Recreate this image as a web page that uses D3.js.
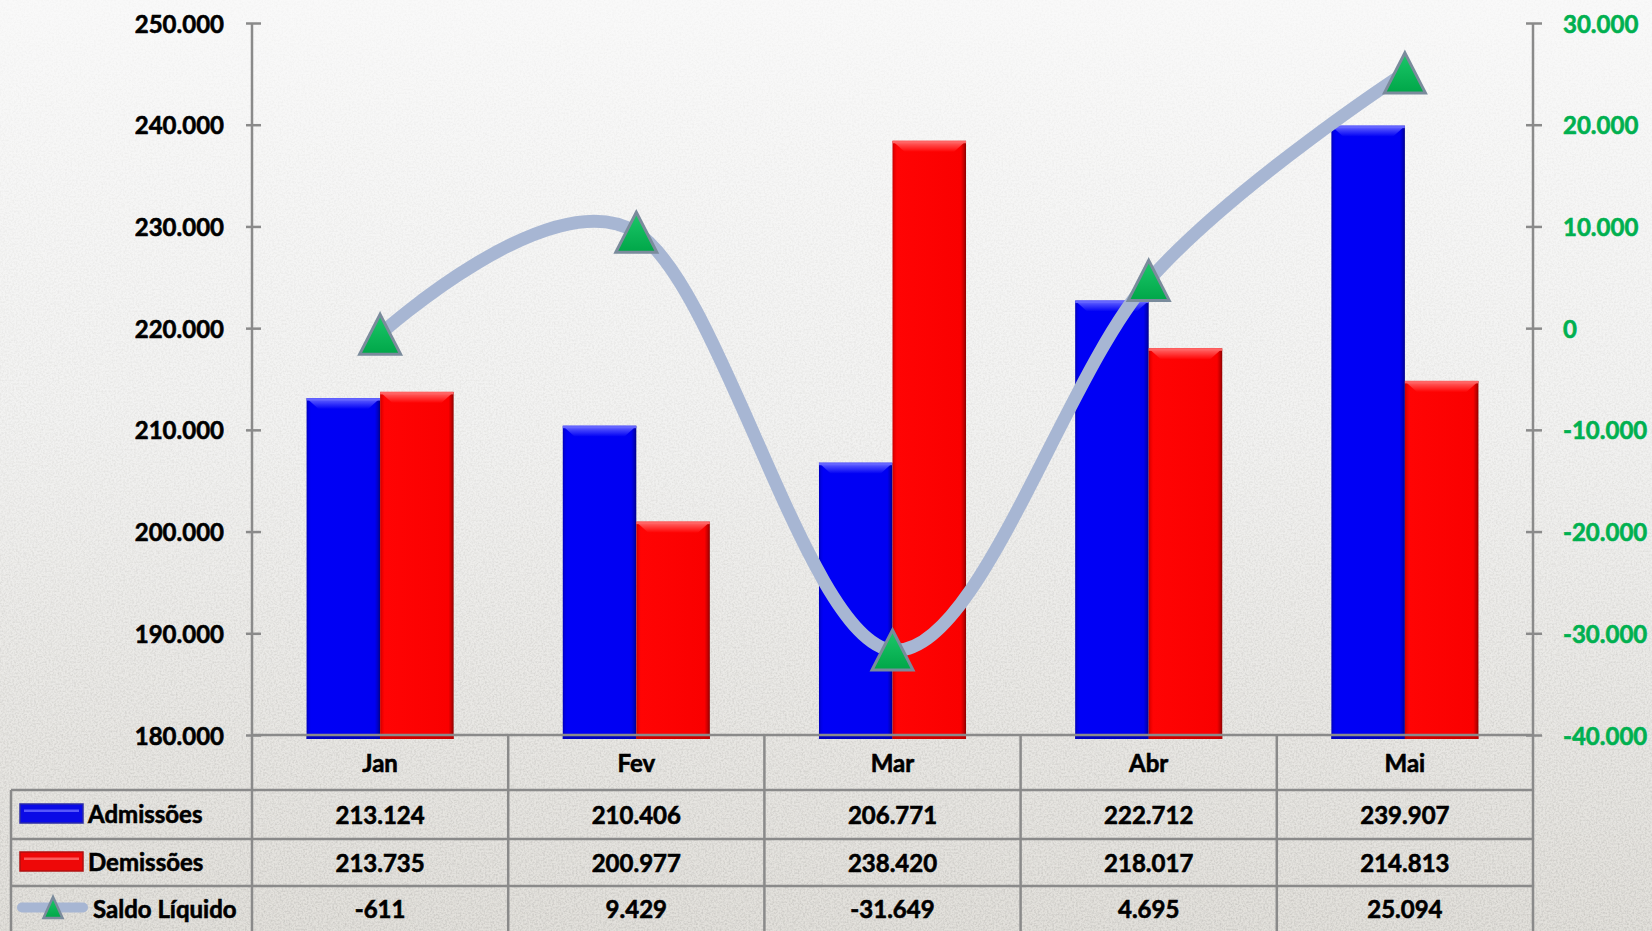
<!DOCTYPE html>
<html>
<head>
<meta charset="utf-8">
<script src="https://cdn.jsdelivr.net/npm/d3@7"></script>
<style>
  html, body { margin: 0; padding: 0; overflow: hidden; background: #efefef; }
  svg { display: block; }
  text { font-family: Lato, "Open Sans", "DejaVu Sans", sans-serif; font-weight: 700; }
</style>
</head>
<body>
<svg id="chart" width="1652" height="931"></svg>
<script>
// ---- data ----
const months = ["Jan", "Fev", "Mar", "Abr", "Mai"];
const admissoes = [213124, 210406, 206771, 222712, 239907];
const demissoes = [213735, 200977, 238420, 218017, 214813];
const saldo = [-611, 9429, -31649, 4695, 25094];
const seriesNames = ["Admissões", "Demissões", "Saldo Líquido"];
const leftTicks = [180000, 190000, 200000, 210000, 220000, 230000, 240000, 250000];
const rightTicks = [-40000, -30000, -20000, -10000, 0, 10000, 20000, 30000];

// ---- layout ----
const W = 1652, H = 931;
const plotLeft = 252, plotRight = 1533, plotTop = 23, plotBottom = 735;
const rowLines = [735, 790, 839, 886, 931];   // table row boundaries
const tableLeft = 11;
const gridColor = "#8a8a8a";
const lineColor = "#a7b6d3";
const green = "#00b050";

// Brazilian number format: 250.000, -611
const br = d3.formatLocale({ decimal: ",", thousands: ".", grouping: [3], currency: ["R$", ""], minus: "-" });
const fmt = br.format(",.0f");

const svg = d3.select("#chart");
const defs = svg.append("defs");

// background gradient + grain
const bg = defs.append("linearGradient").attr("id", "bgGrad").attr("x1", 0).attr("y1", 0).attr("x2", 0).attr("y2", 1);
bg.append("stop").attr("offset", "0%").attr("stop-color", "#f9f9f9");
bg.append("stop").attr("offset", "45%").attr("stop-color", "#f2f2f1");
bg.append("stop").attr("offset", "100%").attr("stop-color", "#e2e0db");

const grain = defs.append("filter").attr("id", "grain").attr("x", 0).attr("y", 0).attr("width", "100%").attr("height", "100%");
grain.append("feTurbulence").attr("type", "fractalNoise").attr("baseFrequency", "0.55").attr("numOctaves", 3).attr("seed", 7).attr("result", "noise");
grain.append("feColorMatrix").attr("type", "matrix")
  .attr("values", "0 0 0 0 0.45  0 0 0 0 0.44  0 0 0 0 0.42  0 0 0 -1.6 1.0").attr("result", "speck");
grain.append("feComposite").attr("in", "speck").attr("in2", "SourceGraphic").attr("operator", "in");

const fade = defs.append("linearGradient").attr("id", "fadeMask").attr("x1", 0).attr("y1", 0).attr("x2", 0).attr("y2", 1);
fade.append("stop").attr("offset", "0%").attr("stop-color", "#fff").attr("stop-opacity", 0.08);
fade.append("stop").attr("offset", "55%").attr("stop-color", "#fff").attr("stop-opacity", 0.3);
fade.append("stop").attr("offset", "100%").attr("stop-color", "#fff").attr("stop-opacity", 0.65);
defs.append("mask").attr("id", "grainMask")
  .append("rect").attr("width", W).attr("height", H).attr("fill", "url(#fadeMask)");

svg.append("rect").attr("width", W).attr("height", H).attr("fill", "url(#bgGrad)");
svg.append("rect").attr("width", W).attr("height", H).attr("fill", "#000")
  .attr("filter", "url(#grain)").attr("mask", "url(#grainMask)");

// bar gradients (bevelled look)
function hGrad(id, stops) {
  const g = defs.append("linearGradient").attr("id", id).attr("x1", 0).attr("y1", 0).attr("x2", 1).attr("y2", 0);
  stops.forEach(([o, c]) => g.append("stop").attr("offset", o).attr("stop-color", c));
}
function vGrad(id, stops) {
  const g = defs.append("linearGradient").attr("id", id).attr("x1", 0).attr("y1", 0).attr("x2", 0).attr("y2", 1);
  stops.forEach(([o, c]) => g.append("stop").attr("offset", o).attr("stop-color", c));
}
hGrad("blueBody", [["0%", "#0000b8"], ["3%", "#0000e6"], ["6%", "#0000f6"], ["93%", "#0000f2"], ["97%", "#0000c0"], ["100%", "#00008a"]]);
hGrad("redBody", [["0%", "#c80000"], ["3%", "#ee0000"], ["6%", "#ff0404"], ["93%", "#fa0000"], ["97%", "#c40000"], ["100%", "#8e0000"]]);
vGrad("blueTop", [["0%", "#5858ff"], ["100%", "#0000f4"]]);
vGrad("redTop", [["0%", "#ff5c5c"], ["100%", "#ff0404"]]);
vGrad("triGrad", [["0%", "#1cc86a"], ["100%", "#00a648"]]);

// ---- scales ----
const xCol = d3.scaleBand().domain(months).range([plotLeft, plotRight]).padding(0);
const pairW = xCol.bandwidth() * 0.574;
const xSub = d3.scaleBand().domain(seriesNames.slice(0, 2)).range([0, pairW]).padding(0);
const yL = d3.scaleLinear().domain([180000, 250000]).range([plotBottom, plotTop]);
const yR = d3.scaleLinear().domain([-40000, 30000]).range([plotBottom, plotTop]);

// ---- bars ----
const barData = [];
months.forEach((m, i) => {
  barData.push({ m, s: seriesNames[0], v: admissoes[i], kind: "blue" });
  barData.push({ m, s: seriesNames[1], v: demissoes[i], kind: "red" });
});
const barBottom = plotBottom + 4;
const bars = svg.append("g").selectAll("g").data(barData).join("g")
  .attr("transform", d => `translate(${xCol(d.m) + (xCol.bandwidth() - pairW) / 2 + xSub(d.s)},0)`);
const bw = xSub.bandwidth();
bars.append("rect")
  .attr("x", 0).attr("y", d => yL(d.v)).attr("width", bw).attr("height", d => barBottom - yL(d.v))
  .attr("fill", d => `url(#${d.kind}Body)`);
// top bevel
bars.append("path")
  .attr("d", d => {
    const y = yL(d.v);
    return `M2,${y + 2} L${bw - 2},${y + 2} L${bw - 12},${y + 11} L12,${y + 11} Z`;
  })
  .attr("fill", d => `url(#${d.kind}Top)`);
bars.append("rect")
  .attr("x", 0).attr("y", d => yL(d.v)).attr("width", bw).attr("height", 2.5)
  .attr("fill", d => d.kind === "blue" ? "#6464ff" : "#ff6464");
// bottom shade
bars.append("rect")
  .attr("x", 0).attr("y", barBottom - 5).attr("width", bw).attr("height", 5)
  .attr("fill", d => d.kind === "blue" ? "#0000b4" : "#c00000").attr("opacity", 0.8);

// shared text style: bold, slightly heavier strokes
function styleText(sel, color) {
  sel.attr("fill", color).attr("stroke", color).attr("stroke-width", 0.6)
    .style("font-size", "24px").style("font-family", "Lato, 'Open Sans', sans-serif").style("font-weight", 700);
}

// ---- axes ----
const axisL = d3.axisLeft(yL).tickValues(leftTicks).tickFormat(fmt).tickSizeInner(6).tickSizeOuter(0).tickPadding(22);
const gL = svg.append("g").attr("transform", `translate(${plotLeft},0)`).call(axisL);
gL.select(".domain").remove();
gL.selectAll(".tick line").attr("x1", 9).attr("stroke", gridColor).attr("stroke-width", 2.5);
gL.selectAll(".tick text").attr("dy", "0.38em").call(styleText, "#000");

const axisR = d3.axisRight(yR).tickValues(rightTicks).tickFormat(fmt).tickSizeInner(9).tickSizeOuter(0).tickPadding(21);
const gR = svg.append("g").attr("transform", `translate(${plotRight},0)`).call(axisR);
gR.select(".domain").remove();
gR.selectAll(".tick line").attr("x1", -7).attr("stroke", gridColor).attr("stroke-width", 2.5);
gR.selectAll(".tick text").attr("dy", "0.38em").call(styleText, green);

// ---- data table grid ----
const grid = svg.append("g").attr("stroke", gridColor).attr("stroke-width", 2.5);
// axis lines (continue down as table borders)
grid.append("line").attr("x1", plotLeft).attr("x2", plotLeft).attr("y1", plotTop).attr("y2", H);
grid.append("line").attr("x1", plotRight).attr("x2", plotRight).attr("y1", plotTop).attr("y2", H);
// category baseline
grid.append("line").attr("x1", plotLeft).attr("x2", plotRight).attr("y1", plotBottom).attr("y2", plotBottom);
// row separators
grid.selectAll(".row").data(rowLines.slice(1, 4)).join("line")
  .attr("x1", tableLeft).attr("x2", plotRight).attr("y1", d => d).attr("y2", d => d);
// column separators
grid.selectAll(".col").data(months.slice(1)).join("line")
  .attr("x1", d => xCol(d)).attr("x2", d => xCol(d)).attr("y1", plotBottom).attr("y2", H);
grid.append("line").attr("x1", tableLeft).attr("x2", tableLeft).attr("y1", rowLines[1]).attr("y2", H);

// ---- saldo line + markers ----
const lineGen = d3.line()
  .x((d, i) => xCol(months[i]) + xCol.bandwidth() / 2)
  .y(d => yR(d))
  .curve(d3.curveCardinal.tension(0));
svg.append("path").datum(saldo).attr("d", lineGen)
  .attr("fill", "none").attr("stroke", lineColor).attr("stroke-width", 13).attr("stroke-linecap", "round");

const tri = (w, h) => `M0,${-h / 2} L${w / 2},${h / 2} L${-w / 2},${h / 2} Z`;
svg.append("g").selectAll("path").data(saldo).join("path")
  .attr("transform", (d, i) => `translate(${xCol(months[i]) + xCol.bandwidth() / 2},${yR(d)})`)
  .attr("d", tri(41, 40))
  .attr("fill", "url(#triGrad)").attr("stroke", "#7a8b9c").attr("stroke-width", 3).attr("stroke-linejoin", "miter");

// ---- table text ----
const rowMid = i => (rowLines[i] + rowLines[i + 1]) / 2;
const textG = svg.append("g");
textG.selectAll(".cat").data(months).join("text")
  .attr("x", d => xCol(d) + xCol.bandwidth() / 2).attr("y", rowMid(0) + 9)
  .attr("text-anchor", "middle").text(d => d).call(styleText, "#000");

const rows = [admissoes, demissoes, saldo];
rows.forEach((vals, r) => {
  textG.selectAll(`.v${r}`).data(vals).join("text")
    .attr("x", (d, i) => xCol(months[i]) + xCol.bandwidth() / 2)
    .attr("y", rowMid(r + 1) + 9)
    .attr("text-anchor", "middle").text(d => fmt(d)).call(styleText, "#000");
});

// legend keys inside the table's first column
const keyG = svg.append("g");
[["blue", "#0a0ae6", "#2a2aa8", "#6a6aff"], ["red", "#ee0808", "#b01010", "#ff7070"]].forEach(([k, fill, edge, hi], r) => {
  const cy = rowMid(r + 1) - 1;
  keyG.append("rect").attr("x", 20).attr("y", cy - 9.5).attr("width", 63).attr("height", 19)
    .attr("fill", fill).attr("stroke", edge).attr("stroke-width", 1.5);
  keyG.append("rect").attr("x", 24).attr("y", cy - 4).attr("width", 55).attr("height", 2.5).attr("fill", hi).attr("opacity", 0.8);
  keyG.append("text").attr("x", 88).attr("y", rowMid(r + 1) + 8).text(seriesNames[r]).call(styleText, "#000");
});
const ly = rowMid(3) - 1;
keyG.append("line").attr("x1", 22).attr("x2", 83).attr("y1", ly).attr("y2", ly)
  .attr("stroke", lineColor).attr("stroke-width", 10).attr("stroke-linecap", "round");
keyG.append("path").attr("transform", `translate(53,${ly})`).attr("d", tri(19, 21))
  .attr("fill", "url(#triGrad)").attr("stroke", "#7a8b9c").attr("stroke-width", 2.5);
keyG.append("text").attr("x", 93).attr("y", rowMid(3) + 9).text(seriesNames[2]).call(styleText, "#000");
</script>
</body>
</html>
